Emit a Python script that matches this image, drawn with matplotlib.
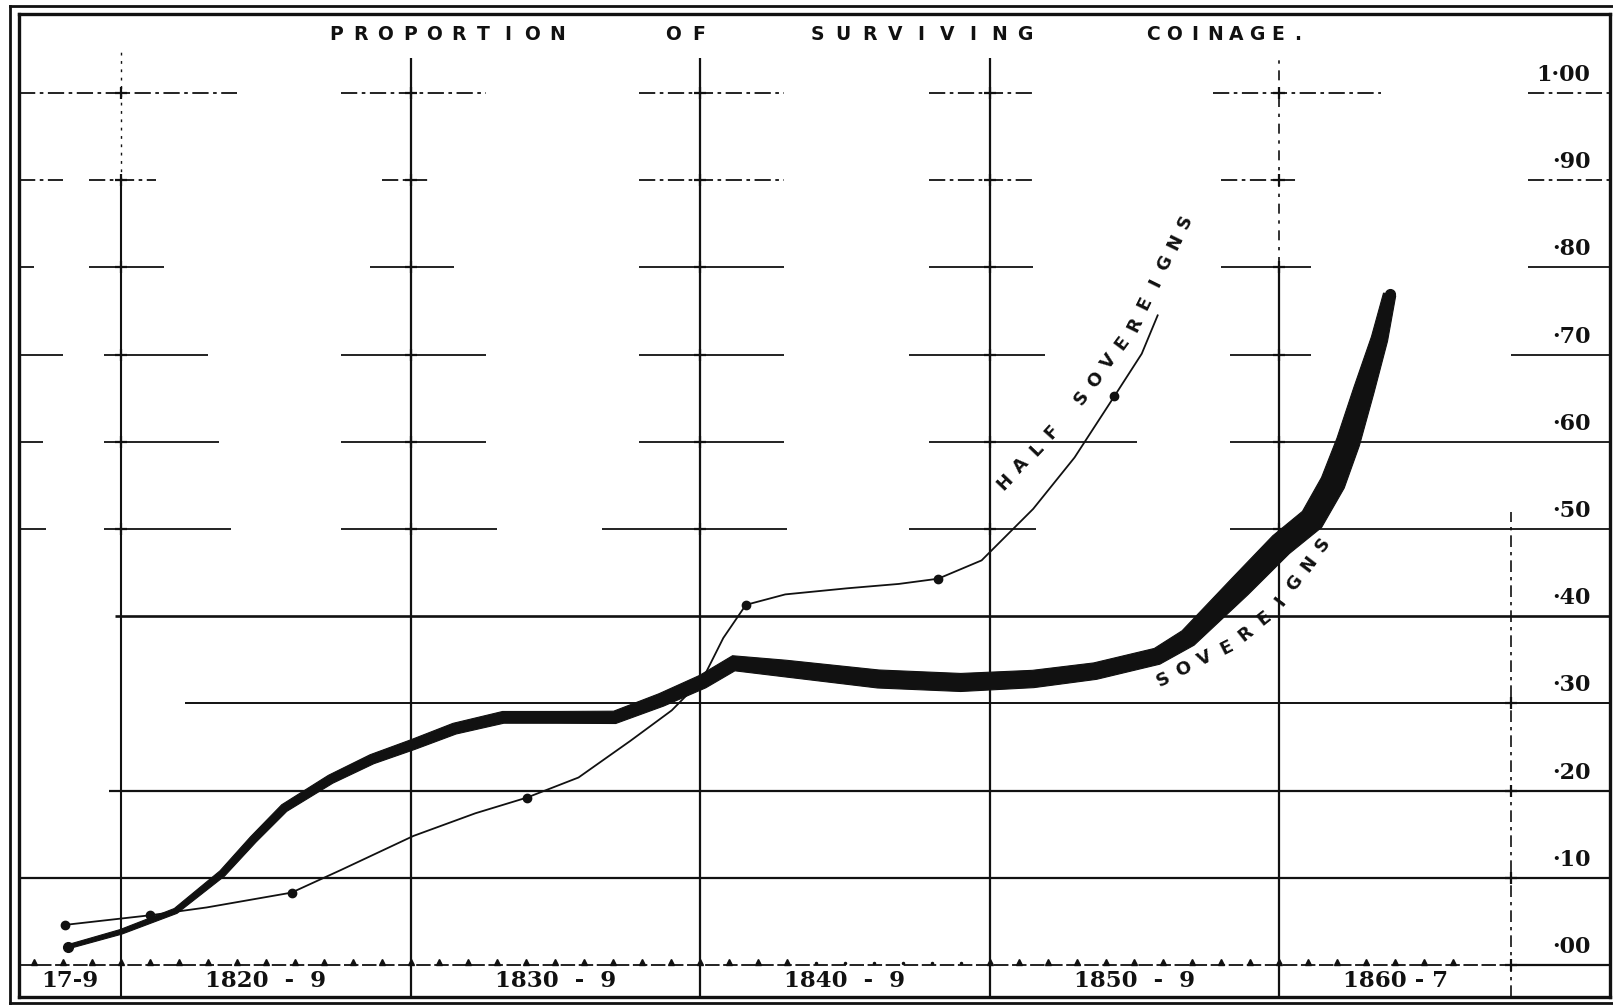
"""
Proportion of surviving coinage, sovereigns and half sovereigns, 1817-1867.
Redrawn from an old printed chart: heavy band for sovereigns, thin line
with dots for half sovereigns, hand-ruled grid and a row of period labels.
"""

import matplotlib.pyplot as plt
import numpy as np
from matplotlib.lines import Line2D
from matplotlib.patches import Polygon

# Sovereigns (centre of the heavy band)
sov_years = [1818.18, 1820.0, 1821.89, 1823.50, 1824.57, 1825.64, 1827.24, 1828.67,
             1830.10, 1831.52, 1833.20, 1835.09, 1837.05, 1838.66, 1840.09, 1841.16,
             1842.94, 1846.15, 1849.00, 1851.50, 1853.64, 1855.78, 1856.85, 1858.64,
             1860.06, 1861.13, 1861.85, 1862.38, 1862.92, 1863.46, 1863.81]
sov_values = [0.021, 0.038, 0.062, 0.105, 0.144, 0.180, 0.213, 0.236,
              0.253, 0.271, 0.284, 0.284, 0.284, 0.304, 0.325, 0.346,
              0.340, 0.328, 0.324, 0.328, 0.337, 0.354, 0.375, 0.434,
              0.482, 0.511, 0.553, 0.600, 0.659, 0.718, 0.769]

# Half sovereigns
half_years = [1818.07, 1821.00, 1822.96, 1825.89, 1827.60, 1830.10, 1832.24, 1834.02,
              1835.80, 1837.59, 1839.02, 1840.09, 1840.80, 1841.58, 1842.94, 1845.08,
              1846.86, 1848.22, 1849.72, 1851.50, 1852.93, 1854.30, 1855.25, 1855.80]
half_values = [0.046, 0.057, 0.066, 0.083, 0.109, 0.148, 0.174, 0.192,
               0.215, 0.257, 0.292, 0.328, 0.375, 0.413, 0.425, 0.432,
               0.437, 0.443, 0.464, 0.523, 0.582, 0.652, 0.701, 0.745]
half_dot_years = [1818.07, 1821.00, 1825.89, 1834.02, 1841.58, 1848.22, 1854.30]
half_dot_values = [0.046, 0.057, 0.083, 0.192, 0.413, 0.443, 0.652]

# scale and period labels
level_values = [0.0, 0.1, 0.2, 0.3, 0.4, 0.5, 0.6, 0.7, 0.8, 0.9, 1.0]
level_labels = ["·00", "·10", "·20", "·30", "·40", "·50", "·60", "·70", "·80", "·90", "1·00"]
period_edges = [1816.48, 1820, 1830, 1840, 1850, 1860, 1868]
period_labels = ["17-9", "1820  -  9", "1830  -  9", "1840  -  9", "1850  -  9", "1860 - 7"]

# width of the heavy band at each sovereign point (points)
SOV_WIDTH = [3, 3.5, 4, 5, 5.5, 6, 6.5, 7, 7.5, 8, 8.5, 8.5, 9, 9.5, 10, 11,
             12, 13, 13, 12.5, 12, 12, 13.5, 16.5, 17.5, 18, 18, 17, 15, 12, 9]

W, H = 1613, 1005
X0, X1 = 1816.48, 1871.42
Y0, Y1 = -0.0367, 1.0906
INK = "#111111"


def place_letters(fig, text, anchors, size, **kw):
    """Spread the characters of text evenly along a polyline given in pixels."""
    pts = np.array(anchors, dtype=float)
    seg = np.diff(pts, axis=0)
    seg_len = np.hypot(seg[:, 0], seg[:, 1])
    cum = np.concatenate([[0.0], np.cumsum(seg_len)])
    n = len(text)
    for i, ch in enumerate(text):
        if ch == " ":
            continue
        s = cum[-1] * i / max(n - 1, 1)
        k = min(np.searchsorted(cum, s, side="right") - 1, len(seg) - 1)
        t = (s - cum[k]) / seg_len[k]
        x, y = pts[k] + t * seg[k]
        ang = np.degrees(np.arctan2(-seg[k, 1], seg[k, 0]))
        fig.text(x / W, 1 - y / H, ch, rotation=ang, rotation_mode="anchor",
                 ha="center", va="center", fontsize=size, color=INK,
                 family="DejaVu Sans", weight="bold", **kw)


def hline(ax, v, a, b, lw=1.4, ls="-"):
    ax.plot([a, b], [v, v], color=INK, lw=lw, ls=ls, solid_capstyle="butt", zorder=1)


def vline(ax, yr, a, b, lw=1.4, ls="-"):
    ax.plot([yr, yr], [a, b], color=INK, lw=lw, ls=ls, solid_capstyle="butt", zorder=1)


def heavy_band(ax, xs, ys, widths_pt):
    """Filled band around a centre line, its width given in points at each vertex."""
    disp = ax.transData.transform(np.column_stack([xs, ys]))
    d = np.gradient(disp, axis=0)
    tan = d / np.hypot(d[:, 0], d[:, 1])[:, None]
    nrm = np.column_stack([-tan[:, 1], tan[:, 0]])
    half = np.asarray(widths_pt) * ax.figure.dpi / 72 / 2
    top = disp + nrm * half[:, None]
    bot = disp - nrm * half[:, None]
    outline = ax.transData.inverted().transform(np.vstack([top, bot[::-1]]))
    ax.add_patch(Polygon(outline, closed=True, facecolor=INK, edgecolor=INK,
                         lw=0.8, zorder=5))


def main():
    fig = plt.figure(figsize=(W / 100, H / 100), dpi=100)
    ax = fig.add_axes([19 / W, 8 / H, (1610 - 19) / W, (997 - 14) / H])
    ax.set_xlim(X0, X1)
    ax.set_ylim(Y0, Y1)
    ax.set_xticks([])
    ax.set_yticks([])
    for sp in ax.spines.values():
        sp.set_linewidth(2.4)
        sp.set_color(INK)

    # outer rule of the double frame
    for xs, ys in [([10, 10], [6, 1003]), ([10, 1613], [6, 6]), ([10, 1613], [1003, 1003])]:
        fig.add_artist(Line2D([x / W for x in xs], [1 - y / H for y in ys],
                              color=INK, lw=2.0, transform=fig.transFigure))

    # lower horizontal rules, drawn through
    hline(ax, 0.1, X0, X1, lw=1.6)
    hline(ax, 0.2, 1819.6, X1, lw=1.6)
    hline(ax, 0.3, 1822.2, X1, lw=1.4)
    hline(ax, 0.4, 1819.8, X1, lw=1.9)
    # upper rules are broken pieces, as on the original
    upper = {
        0.5: [(X0, 1817.4), (1819.4, 1823.8), (1827.6, 1833.0), (1836.6, 1843.0),
              (1847.2, 1851.6), (1858.3, X1)],
        0.6: [(X0, 1817.3), (1819.4, 1823.4), (1827.6, 1832.6), (1837.9, 1842.9),
              (1847.9, 1855.1), (1858.3, X1)],
        0.7: [(X0, 1818.0), (1819.4, 1823.0), (1827.6, 1832.6), (1837.9, 1842.9),
              (1847.2, 1851.9), (1858.3, 1861.1), (1868.0, X1)],
        0.8: [(X0, 1817.0), (1818.9, 1821.5), (1828.6, 1831.5), (1837.9, 1842.9),
              (1847.9, 1851.5), (1858.0, 1861.1), (1868.6, X1)],
        0.9: [(X0, 1818.0), (1818.9, 1821.2), (1829.0, 1830.6), (1837.9, 1842.9),
              (1847.9, 1851.5), (1858.0, 1860.6), (1868.6, X1)],
        1.0: [(X0, 1824.0), (1827.6, 1832.6), (1837.9, 1842.9), (1847.9, 1851.5),
              (1857.7, 1863.5), (1868.6, X1)],
    }
    for v, pieces in upper.items():
        for a, b in pieces:
            ls = (0, (9, 2.5, 2, 2.5)) if v >= 0.9 else "-"
            hline(ax, v, a, b, lw=1.3, ls=ls)

    # verticals at each decade
    vline(ax, 1820, Y0, 0.9, lw=1.5)
    vline(ax, 1820, 0.9, 1.05, lw=1.0, ls=(0, (2, 4)))
    for yr in (1830, 1840, 1850):
        vline(ax, yr, Y0, 1.04, lw=1.6)
    vline(ax, 1860, Y0, 0.8, lw=1.6)
    vline(ax, 1860, 0.8, 1.04, lw=1.2, ls=(0, (6, 4, 2, 4)))
    vline(ax, 1868, Y0, 0.52, lw=1.2, ls=(0, (7, 3, 2, 3)))

    # small crosses where the ruled lines meet
    for yr in (1820, 1830, 1840, 1850, 1860):
        ax.plot([yr] * 6, [0.5, 0.6, 0.7, 0.8, 0.9, 1.0], "+", color=INK, ms=9, mew=1.6, zorder=2)
    ax.plot([1868] * 4, [0.0, 0.1, 0.2, 0.3], "+", color=INK, ms=9, mew=1.6, zorder=2)

    # base line with its row of little marks
    hline(ax, 0.0, X0, 1868, lw=1.3, ls=(0, (8, 2)))
    hline(ax, 0.0, 1868, X1, lw=1.6)
    tick_years = [y for y in range(1817, 1867) if not 1844 <= y <= 1849]
    ax.plot(tick_years, [0.004] * len(tick_years), "^", color=INK, ms=5, zorder=2)
    ax.plot(range(1844, 1850), [0.002] * 6, ".", color=INK, ms=3, zorder=2)

    # period cells under the base line
    for k, lab in enumerate(period_labels):
        xc = (period_edges[k] + period_edges[k + 1]) / 2
        ax.text(xc, Y0 / 2, lab, ha="center", va="center", fontsize=16.5,
                family="DejaVu Serif", weight="bold", color=INK)

    # scale on the right
    for v, lab in zip(level_values, level_labels):
        ax.text(1870.75, v + 0.008, lab, ha="right", va="bottom", fontsize=16,
                family="DejaVu Serif", weight="bold", color=INK)

    # half sovereigns: thin line with dots
    ax.plot(half_years, half_values, color=INK, lw=1.3, zorder=3)
    ax.plot(half_dot_years, half_dot_values, "o", color=INK, ms=6, zorder=4)

    # sovereigns: heavy band whose width grows with time
    heavy_band(ax, sov_years, sov_values, SOV_WIDTH)
    ax.plot([sov_years[0], sov_years[-1]], [sov_values[0], sov_values[-1]], "o",
            color=INK, ms=7, zorder=6)

    # title, letter-spaced
    place_letters(fig, "PROPORTION", [(336, 34), (557, 34)], 13.5)
    place_letters(fig, "OF", [(673, 34), (699, 34)], 13.5)
    place_letters(fig, "SURVIVING", [(817, 34), (1025, 34)], 13.5)
    place_letters(fig, "COINAGE.", [(1153, 34), (1298, 34)], 13.5)

    # curve names written along the lines
    place_letters(fig, "HALF SOVEREIGNS",
                  [(1005, 482), (1048, 437), (1075, 407), (1132, 330), (1185, 222)], 13)
    place_letters(fig, "SOVEREIGNS",
                  [(1163, 680), (1228, 647), (1272, 612), (1323, 545)], 13)

    fig.savefig("out.png", dpi=100)


if __name__ == "__main__":
    main()
